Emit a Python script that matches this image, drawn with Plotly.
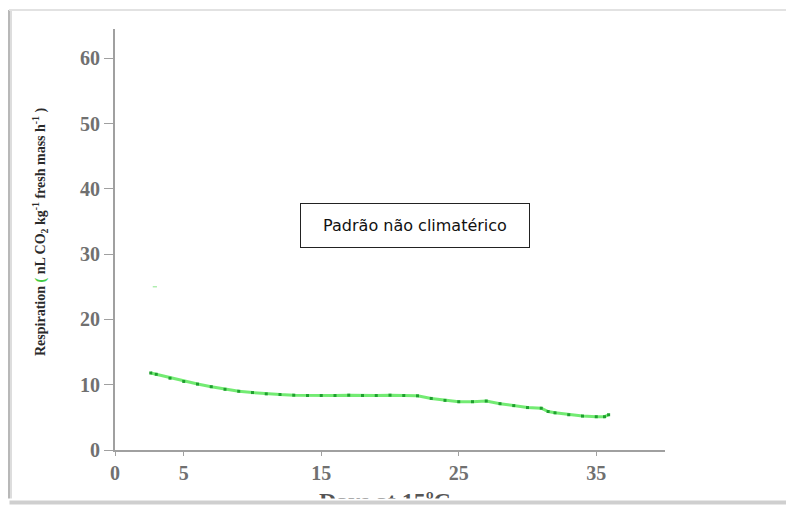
import plotly.graph_objects as go

# Data
days = [2.6, 3, 4, 5, 6, 7, 8, 9, 10, 11, 12, 13, 14, 15, 16, 17, 18, 19, 20,
        21, 22, 23, 24, 25, 26, 27, 28, 29, 30, 31, 31.5, 32, 33, 34, 35, 35.6, 35.9]
respiration = [11.8, 11.6, 11.0, 10.5, 10.1, 9.7, 9.3, 9.0, 8.8, 8.6, 8.5, 8.4, 8.35, 8.35,
               8.35, 8.4, 8.35, 8.35, 8.4, 8.35, 8.3, 7.9, 7.6, 7.4, 7.4, 7.5, 7.1, 6.8,
               6.5, 6.4, 5.9, 5.7, 5.4, 5.2, 5.1, 5.1, 5.4]
x_ticks = [0, 5, 15, 25, 35]
y_ticks = [0, 10, 20, 30, 40, 50, 60]
stray_x = [2.9]
stray_y = [25.0]

W, H = 786, 505
L, R = 115, 665      # plot area px
T, B = 29, 450


def px(xp):
    return (xp - L) / (R - L)


def py(yp):
    return (B - yp) / (B - T)


fig = go.Figure()
fig.add_trace(go.Scatter(
    x=days, y=respiration, mode="lines+markers",
    line=dict(color="rgba(80,230,80,0.8)", width=3),
    marker=dict(color="#1f9f2f", size=3, symbol="square"),
    showlegend=False, hoverinfo="skip"))
fig.add_trace(go.Scatter(
    x=stray_x, y=stray_y, mode="markers",
    marker=dict(color="rgba(90,220,90,0.7)", size=3, symbol="line-ew-open",
                line=dict(color="rgba(90,220,90,0.7)", width=1)),
    showlegend=False, hoverinfo="skip"))

tickfont = dict(family="Liberation Serif", size=20, color="#707070", weight="bold")
fig.update_layout(
    width=W, height=H,
    margin=dict(l=L, r=W - R, t=T, b=H - B),
    paper_bgcolor="white", plot_bgcolor="white",
    xaxis=dict(range=[0, 40], tickvals=x_ticks, ticktext=[str(v) for v in x_ticks],
               showgrid=False, zeroline=False, showline=True, linecolor="#a0a0a0",
               linewidth=2, ticks="outside", ticklen=4, tickcolor="#a0a0a0",
               tickfont=tickfont),
    yaxis=dict(range=[0, 64.5], tickvals=y_ticks, ticktext=[str(v) for v in y_ticks],
               showgrid=False, zeroline=False, showline=True, linecolor="#a0a0a0",
               linewidth=2, ticks="outside", ticklen=9, tickcolor="#a0a0a0",
               tickfont=tickfont),
)

# Frame of the scanned figure
fig.add_shape(type="line", xref="paper", yref="paper", x0=px(9), x1=px(9), y0=py(10), y1=py(503),
              line=dict(color="#b8b8b8", width=2))
fig.add_shape(type="line", xref="paper", yref="paper", x0=px(11), x1=px(11), y0=py(10), y1=py(503),
              line=dict(color="#dddddd", width=2))
fig.add_shape(type="line", xref="paper", yref="paper", x0=px(9), x1=px(786), y0=py(10), y1=py(10),
              line=dict(color="#e2e2e2", width=2))

# Text box
fig.add_annotation(xref="paper", yref="paper", x=px(415), y=py(225),
                   text="Padrão não climatérico", showarrow=False,
                   font=dict(family="DejaVu Sans", size=16, color="#111"),
                   bordercolor="#222", borderwidth=1, borderpad=10,
                   width=208, height=23, bgcolor="white")

# Y axis title
fig.add_annotation(xref="paper", yref="paper", x=px(28), y=py(232), textangle=-90,
                   text="<b>Respiration <span style='color:#44cc44'>(</span> nL CO<sub>2</sub> kg<sup>-1</sup> fresh mass h<sup>-1</sup> )</b>",
                   showarrow=False,
                   font=dict(family="Liberation Serif", size=14, color="#2a2a2a"))

# X axis title (cut off by frame bottom)
fig.add_annotation(xref="paper", yref="paper", x=px(385), y=py(486), yanchor="top",
                   text="<b>Days at 15ºC</b>", showarrow=False,
                   font=dict(family="Liberation Serif", size=24, color="#555"))
# cover below clip
fig.add_annotation(xref="paper", yref="paper", x=px(0), y=py(497.5), xanchor="left", yanchor="top",
                   text=" ", showarrow=False, font=dict(size=1), bgcolor="white",
                   width=790, height=10, borderpad=0)
fig.add_annotation(xref="paper", yref="paper", x=px(9), y=py(500), xanchor="left", yanchor="top",
                   text=" ", showarrow=False, font=dict(size=1), bgcolor="#cfcfcf",
                   width=790, height=3, borderpad=0)

fig.write_html("out.html")
